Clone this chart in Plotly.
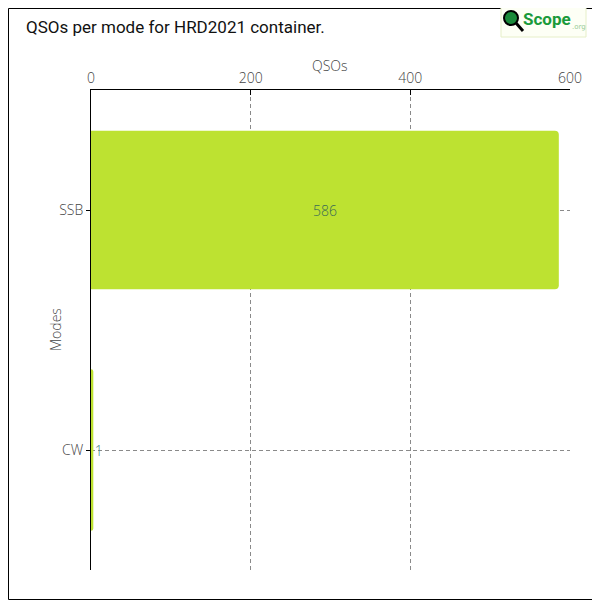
import plotly.graph_objects as go

modes = ["SSB", "CW"]
qsos = [586, 1]
x_ticks = [0, 200, 400, 600]

W, H = 592, 592
L, T, R, B = 83, 82, 30, 30
PW, PH = W - L - R, H - T - B


def px(x):  # page x (reference px) -> paper coord
    return (x - 8 - L) / PW


def py(y):  # page y (reference px) -> paper coord
    return (H - (y - 8) - B) / PH


fig = go.Figure(go.Bar(
    x=qsos, y=modes, orientation="h",
    marker=dict(color="#bde231", line=dict(color="#bde231", width=[0, 3])),
    text=[str(v) for v in qsos], textposition="auto",
    insidetextanchor="middle",
    textfont=dict(family="Open Sans", size=14, color="#3a6a55", weight=300),
    outsidetextfont=dict(family="Open Sans", size=14, color="#3f7f7f", weight=300),
    width=0.66, cliponaxis=False,
))

tick_font = dict(family="Open Sans", size=14, color="#444", weight=300)
grid = dict(showgrid=True, gridcolor="#8a8a8a", griddash="4px,3px", gridwidth=1)

fig.update_layout(
    width=W, height=H,
    margin=dict(l=L, r=R, t=T, b=B),
    paper_bgcolor="white", plot_bgcolor="white",
    barcornerradius=4,
    showlegend=False,
    xaxis=dict(side="top", range=[0, 600], tickvals=x_ticks,
               tickfont=tick_font,
               showline=True, linecolor="black", linewidth=1,
               ticks="inside", ticklen=5, tickcolor="black",
               zeroline=False, **grid),
    yaxis=dict(categoryorder="array", categoryarray=["CW", "SSB"],
               range=[-0.5, 1.5],
               tickfont=tick_font,
               showline=True, linecolor="black", linewidth=1,
               ticks="outside", ticklen=4, tickcolor="black",
               **grid),
    shapes=[
        dict(type="rect", xref="paper", yref="paper", x0=px(8.5), x1=px(599.5), y0=py(599.5), y1=py(8.5),
             line=dict(color="black", width=1), fillcolor="rgba(0,0,0,0)", layer="above"),
        dict(type="rect", xref="paper", yref="paper", x0=px(501), x1=px(586),
             y0=py(37), y1=py(5),
             line=dict(color="#e6efc8", width=1), fillcolor="#fdfff5"),
        dict(type="circle", xref="paper", yref="paper", x0=px(504), x1=px(518),
             y0=py(25), y1=py(11),
             line=dict(color="black", width=2), fillcolor="#1a8a3a"),
        dict(type="line", xref="paper", yref="paper", x0=px(516), x1=px(523),
             y0=py(23), y1=py(31), line=dict(color="black", width=3)),
    ],
    annotations=[
        dict(text="QSOs per mode for HRD2021 container.", xref="paper", yref="paper",
             x=px(24), y=py(27), xanchor="left", yanchor="middle", showarrow=False,
             font=dict(family="Roboto", size=17, color="#111")),
        dict(text="QSOs", xref="paper", yref="paper", x=px(330), y=py(66),
             xanchor="center", yanchor="middle", showarrow=False, font=tick_font),
        dict(text="Modes", xref="paper", yref="paper", x=px(55), y=py(330),
             xanchor="center", yanchor="middle", showarrow=False, textangle=-90, font=tick_font),
        dict(text="<b>Scope</b>", xref="paper", yref="paper", x=px(521), y=py(19),
             xanchor="left", yanchor="middle", showarrow=False,
             font=dict(family="Roboto", size=17, color="#1a9a3a")),
        dict(text=".org", xref="paper", yref="paper", x=px(570), y=py(27),
             xanchor="left", yanchor="middle", showarrow=False,
             font=dict(family="DejaVu Sans", size=7, color="#9c9")),
    ],
)

fig.write_html("out.html")
